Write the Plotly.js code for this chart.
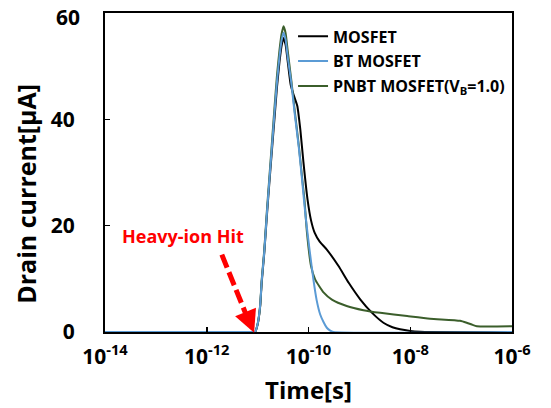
<!DOCTYPE html>
<html>
<head>
<meta charset="utf-8">
<script src="https://cdn.plot.ly/plotly-3.0.1.min.js"></script>
<style>html,body{margin:0;padding:0;background:#fff;}#chart{width:551px;height:408px;}</style>
</head>
<body>
<div id="chart"></div>
<script>
// log10 of time [s] and drain current [µA]
const mosfetLogT = [-14, -11.1, -11.05, -11.0, -10.95, -10.92, -10.87, -10.82, -10.77, -10.72, -10.67, -10.62, -10.57, -10.53, -10.49, -10.45, -10.41, -10.35, -10.29, -10.22, -10.16, -10.10, -10.02, -9.95, -9.88, -9.78, -9.64, -9.41, -9.21, -8.98, -8.75, -8.52, -8.35, -8.20, -8.0, -7.8, -7.6, -6];
const mosfetI    = [0, 0, 0, 1.4, 4.8, 9.3, 14.8, 21.6, 28, 34, 40, 46, 50.8, 53.8, 55.3, 54, 51, 46.5, 44.5, 42.5, 38, 32, 25, 21, 18.7, 17, 15.5, 12.4, 9.25, 6.1, 3.6, 1.7, 0.9, 0.5, 0.2, 0.05, 0, 0];

const btLogT = [-14, -11.1, -11.05, -11.0, -10.95, -10.92, -10.87, -10.82, -10.77, -10.72, -10.67, -10.62, -10.57, -10.53, -10.49, -10.45, -10.41, -10.34, -10.27, -10.19, -10.12, -10.06, -9.98, -9.90, -9.84, -9.77, -9.70, -9.64, -9.58, -9.51, -6];
const btI    = [0, 0, 0, 1.5, 5, 9.6, 15, 22, 28.5, 34.7, 41, 47, 51.8, 54.8, 56.3, 55, 51.8, 47, 41, 34.7, 28, 22, 15.5, 9.6, 6, 3.3, 1.8, 0.8, 0.3, 0, 0];

const pnbtLogT = [-14, -11.1, -11.05, -11.0, -10.95, -10.92, -10.87, -10.82, -10.77, -10.72, -10.67, -10.62, -10.57, -10.53, -10.49, -10.45, -10.41, -10.34, -10.27, -10.19, -10.12, -10.08, -10.03, -9.95, -9.87, -9.70, -9.54, -9.25, -8.92, -8.59, -8.06, -7.61, -7.02, -6.88, -6.79, -6.69, -6.0];
const pnbtI    = [0, 0, 0, 1.5, 5, 9.8, 15.3, 22.5, 29, 35.5, 42, 48.2, 53, 56, 57.5, 56.2, 53, 47.5, 41.5, 35, 28.5, 24.9, 18.7, 12.4, 9.9, 7.4, 6.1, 4.9, 4.1, 3.6, 3.0, 2.5, 2.1, 1.7, 1.4, 1.1, 1.1];

const xTickVals = [1e-14, 1e-12, 1e-10, 1e-8, 1e-6];
const xTickText = ['10<sup>-14</sup>', '10<sup>-12</sup>', '10<sup>-10</sup>', '10<sup>-8</sup>', '10<sup>-6</sup>'];
const yTickVals = [0, 20, 40];
const yTickText = ['0', '20', '40'];
const yTopTickVals = [60];
const yTopTickText = ['60'];

const toT = a => a.map(v => Math.pow(10, v));
const FONT = '"Open Sans", Lato, sans-serif';
const tickFont = {family: FONT, size: 21, color: '#000', weight: 'bold'};

const traces = [
  {x: toT(mosfetLogT), y: mosfetI, name: 'MOSFET', mode: 'lines', line: {color: '#000000', width: 2, shape: 'spline', smoothing: 0.5}, legendrank: 1, legendgroup: 'a'},
  {x: toT(pnbtLogT), y: pnbtI, name: 'PNBT MOSFET(V<sub>B</sub>=1.0)', mode: 'lines', line: {color: '#3b5e2b', width: 2, shape: 'spline', smoothing: 0.5}, legendrank: 3, legendgroup: 'c'},
  {x: toT(btLogT), y: btI, name: 'BT MOSFET', mode: 'lines', line: {color: '#5b9bd5', width: 2, shape: 'spline', smoothing: 0.5}, legendrank: 2, legendgroup: 'b'},
  // invisible copy on the overlay axis so that the top "60" label is drawn
  {x: toT(btLogT), y: btI, yaxis: 'y2', mode: 'lines', opacity: 0, showlegend: false, hoverinfo: 'skip', line: {color: '#5b9bd5', width: 0}}
];

const layout = {
  width: 551, height: 408,
  margin: {l: 105, r: 39, t: 13, b: 76, pad: 0},
  paper_bgcolor: '#ffffff', plot_bgcolor: '#ffffff',
  font: {family: FONT, color: '#000', weight: 'bold'},
  showlegend: true,
  legend: {x: 0.462, y: 0.98, xanchor: 'left', yanchor: 'top', bgcolor: 'rgba(0,0,0,0)',
           font: {family: FONT, size: 16, color: '#000', weight: 'bold'},
           traceorder: 'grouped', tracegroupgap: 1, itemwidth: 30},
  xaxis: {type: 'log', range: [-14, -6], tickvals: xTickVals, ticktext: xTickText,
          ticks: 'inside', ticklen: 5, tickwidth: 1.5, tickcolor: '#000',
          showline: true, linecolor: '#000', linewidth: 2, mirror: true,
          showgrid: false, zeroline: false, ticklabelstandoff: 5, ticklabeloverflow: 'allow',
          tickfont: tickFont,
          title: {text: 'Time[s]', font: {family: FONT, size: 24, color: '#000', weight: 'bold'}, standoff: 13}},
  yaxis: {range: [0, 60], tickvals: yTickVals, ticktext: yTickText,
          ticks: 'inside', ticklen: 5, tickwidth: 1.5, tickcolor: '#000',
          showline: true, linecolor: '#000', linewidth: 2, mirror: true,
          showgrid: false, zeroline: false, ticklabelstandoff: 24, ticklabeloverflow: 'allow',
          tickfont: tickFont},
  yaxis2: {range: [0, 60], overlaying: 'y', side: 'left', tickvals: yTopTickVals, ticktext: yTopTickText,
           ticks: '', showline: false, showgrid: false, zeroline: false,
           ticklabelstandoff: 24, ticklabelshift: 5, ticklabeloverflow: 'allow', tickfont: tickFont},
  shapes: [
    {type: 'line', xref: 'paper', yref: 'paper', x0: 0.287, y0: 0.2426, x1: 0.351, y1: 0.041,
     line: {color: '#ff0000', width: 5, dash: '14px,5px'}}
  ],
  annotations: [
    {xref: 'paper', yref: 'paper', x: -0.194, y: 0.4335, text: 'Drain current[µA]', textangle: -90, showarrow: false,
     font: {family: FONT, size: 25, color: '#000', weight: 'bold'}, xanchor: 'center', yanchor: 'middle'},
    {xref: 'paper', yref: 'paper', x: 0.1905, y: 0.300, text: 'Heavy-ion Hit', showarrow: false,
     font: {family: FONT, size: 18, color: '#ff0000', weight: 'bold'}, xanchor: 'center', yanchor: 'middle'},
    {xref: 'paper', yref: 'paper', x: 0.3664, y: -0.0025, text: '', showarrow: true,
     axref: 'pixel', ayref: 'pixel', ax: -7, ay: -17, arrowhead: 2, arrowsize: 0.9, arrowwidth: 5, arrowcolor: '#ff0000', standoff: 0}
  ]
};

Plotly.newPlot('chart', traces, layout, {displayModeBar: false, staticPlot: true});
</script>
</body>
</html>
